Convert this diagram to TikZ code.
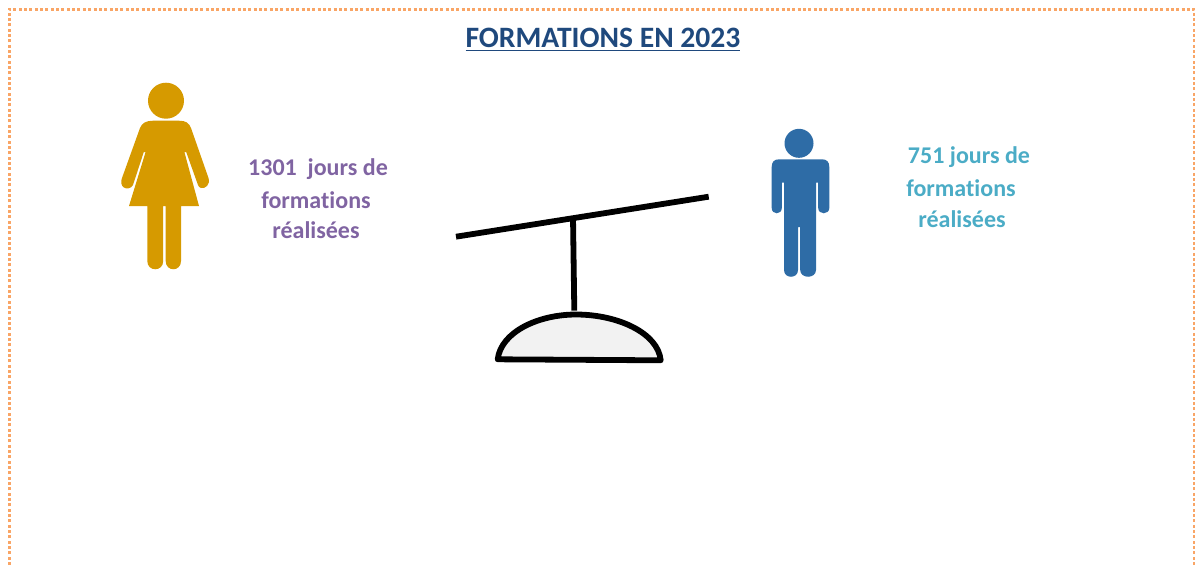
\documentclass[tikz,border=0pt]{standalone}
\usepackage{fontspec}
\setmainfont{Carlito}[Ligatures=CommonOff]
\definecolor{titleblue}{HTML}{1F497D}
\definecolor{violettext}{HTML}{8064A2}
\definecolor{cyantext}{HTML}{4BACC6}
\definecolor{womangold}{HTML}{D69A00}
\definecolor{manblue}{HTML}{2E6CA6}
\definecolor{dotorange}{HTML}{F9A566}
\definecolor{basegrey}{HTML}{F2F2F2}
\tikzset{
  frameline/.style={draw=dotorange,line width=3*0.75pt,dash pattern=on 2.25pt off 1.75pt},
  scaleline/.style={draw=black,line width=5.8*0.75pt},
  label one/.style={font=\fontsize{18}{20}\bfseries\selectfont,text=violettext,inner sep=0pt},
  label two/.style={font=\fontsize{18}{20}\bfseries\selectfont,text=cyantext,inner sep=0pt},
  title text/.style={font=\fontsize{22.2}{24}\bfseries\selectfont,text=titleblue,inner sep=0pt},
}
\begin{document}
\begin{tikzpicture}[x=0.75pt,y=-0.75pt]
\useasboundingbox (0,0) rectangle (1195,565);
\begin{scope}
\clip (0,0) rectangle (1195,565);
\draw[frameline] (9.5,565) -- (9.5,9) -- (1194,9) -- (1194,565);
\end{scope}

\node[title text] (title) at (603,39.5) {\underline{FORMATIONS EN 2023}};

% woman
\fill[womangold] (166,100.7) circle (18);
\fill[womangold]
  (153,120.7) -- (179,120.7)
  .. controls (186,120.7) and (189,123) .. (191,128)
  -- (208.5,178)
  .. controls (210.5,185) and (205,189) .. (201,188)
  .. controls (199.5,187.6) and (198.5,186.5) .. (198,185)
  -- (186.2,152) -- (184.4,152) -- (199,206) -- (181,206) -- (181,261)
  .. controls (181,272) and (165.7,272) .. (165.7,261)
  -- (165.7,206) -- (163.2,206) -- (163.2,261)
  .. controls (163.2,272) and (147.3,272) .. (147.3,261)
  -- (147.3,206) -- (129,206) -- (145.6,152) -- (143.8,152) -- (133,185)
  .. controls (131,189) and (126,189) .. (124,187.5)
  .. controls (121,185.5) and (120.5,182) .. (122,178)
  -- (140,128)
  .. controls (142,123) and (146,120.7) .. (153,120.7) -- cycle;

% man
\fill[manblue] (799,143.3) circle (14.5);
\fill[manblue]
  (779,159.3) -- (822,159.3)
  .. controls (827,159.3) and (829.3,162) .. (829.3,167)
  -- (829.3,208)
  .. controls (829.3,215) and (818.2,215) .. (818.2,208)
  -- (818.2,182.7) -- (816,182.7) -- (816,270)
  .. controls (816,279) and (800.2,279) .. (800.2,270)
  -- (800.2,227) -- (798,227) -- (798,270)
  .. controls (798,279) and (784,279) .. (784,270)
  -- (784,182.7) -- (781.8,182.7) -- (781.8,208)
  .. controls (781.8,215) and (771.7,215) .. (771.7,208)
  -- (771.7,167)
  .. controls (771.7,162) and (774,159.3) .. (779,159.3) -- cycle;

% balance
\coordinate (beamL) at (456,236.7);
\coordinate (beamR) at (708.7,196.7);
\coordinate (postT) at (573,217);
\coordinate (postB) at (574.3,310.7);
\coordinate (baseL) at (497.7,359.3);
\coordinate (baseR) at (660.7,360.3);
\draw[scaleline] (beamL) -- (beamR);
\draw[scaleline] (postT) -- (postB);
\draw[scaleline,fill=basegrey,line join=round]
  (baseL) .. controls (501,332) and (538,314.5) .. (576,314.5)
  .. controls (618,314.5) and (658,333) .. (baseR) -- cycle;

% labels
\node[label one] (w1) at (318,169.5) {1301\ \ jours de};
\node[label one] (w2) at (316,200) {formations};
\node[label one] (w3) at (316,230.5) {réalisées};
\node[label two] (m1) at (969,157.5) {751 jours de};
\node[label two] (m2) at (961,188) {formations};
\node[label two] (m3) at (962,219.5) {réalisées};
\end{tikzpicture}
\end{document}
